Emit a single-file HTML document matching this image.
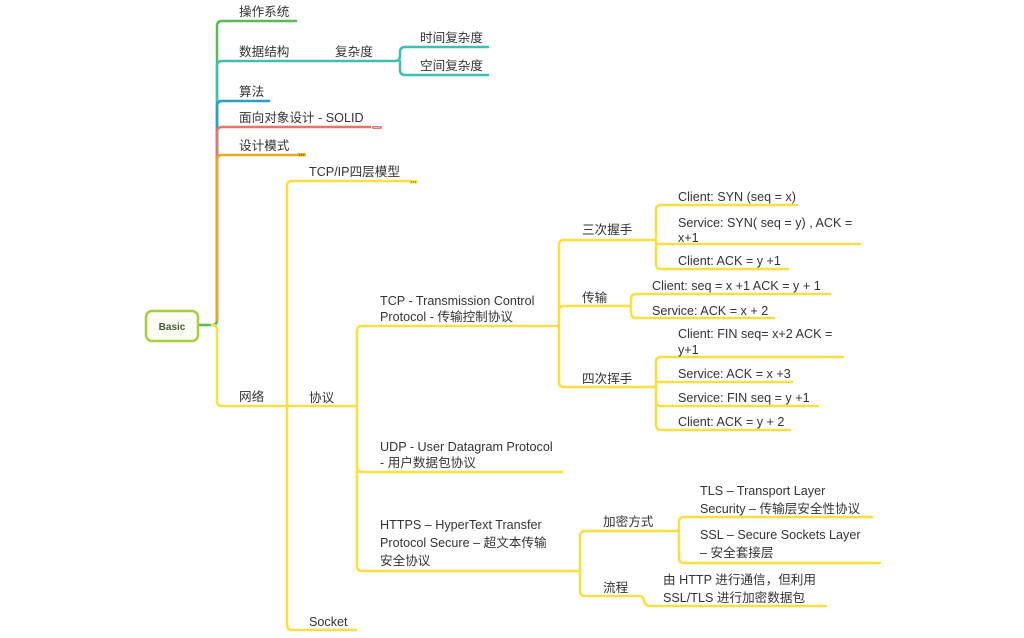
<!DOCTYPE html>
<html><head><meta charset="utf-8"><style>
html,body{margin:0;padding:0;background:#fff;}
svg text{font-family:"Liberation Sans","Noto Sans CJK SC",sans-serif;font-size:12.6px;fill:#333;}
</style></head><body>
<svg width="1024" height="633" viewBox="0 0 1024 633" xmlns="http://www.w3.org/2000/svg">
<g fill="none" stroke-width="2.5" stroke-linecap="round">
<path d="M198 325 H212 Q217 325 217 320 V26 Q217 21 222 21 H296" stroke="#5cb85c"/>
<path d="M217 320 V66 Q217 61 222 61 H395" stroke="#3fbfb0"/>
<path d="M217 320 V106 Q217 101 222 101 H269" stroke="#2a9fc6"/>
<path d="M217 320 V132 Q217 127 222 127 H370" stroke="#e8736b"/>
<path d="M217 320 V160 Q217 155 222 155 H296" stroke="#e8a820"/>
<path d="M212 325 Q217 325 217 330 V401 Q217 406 222 406 H287" stroke="#f7e040"/>
<path d="M395 61 Q400 61 400 56 V52 Q400 47 405 47 H488 M400 61 V70 Q400 75 405 75 H488" stroke="#3fbfb0"/>
<path d="M287 406 V186 Q287 181 292 181 H410 M287 406 H356 M287 406 V625 Q287 630 292 630 H356" stroke="#f7e040"/>
<path d="M356 406 Q357 406 357 401 V331 Q357 326 362 326 H558 M357 406 V467 Q357 472 362 472 H562 M357 406 V566 Q357 571 362 571 H580" stroke="#f7e040"/>
<path d="M558 326 Q559 326 559 321 V245 Q559 240 564 240 H655 M559 326 V311 Q559 306 564 306 H630 M559 326 V382 Q559 387 564 387 H655" stroke="#f7e040"/>
<path d="M655 240 Q656 240 656 235 V210 Q656 205 661 205 H797 M656 240 V244 H860 M656 240 V264 Q656 269 661 269 H788" stroke="#f7e040"/>
<path d="M630 306 Q631 306 631 301 V299 Q631 294 636 294 H830 M631 306 V313 Q631 318 636 318 H774" stroke="#f7e040"/>
<path d="M655 387 Q656 387 656 382 V362 Q656 357 661 357 H843 M656 387 V382 H792 M656 387 V401 Q656 406 661 406 H818 M656 387 V425 Q656 430 661 430 H790" stroke="#f7e040"/>
<path d="M580 571 Q580 571 580 566 V536 Q580 531 585 531 H678 M580 571 V591 Q580 596 585 596 H640 Q643 596 644 601 Q645 606 650 606 H826" stroke="#f7e040"/>
<path d="M678 531 Q679 531 679 526 V522 Q679 517 684 517 H872 M679 531 V558 Q679 563 684 563 H880" stroke="#f7e040"/>
</g>
<rect x="372" y="126" width="10" height="3" rx="1.5" fill="#e8736b"/>
<rect x="297" y="153" width="9" height="3.5" rx="1.5" fill="#e8a820"/>
<rect x="409" y="180" width="9" height="3.5" rx="1.5" fill="#f7e040"/>
<g fill="#fff"><circle cx="375" cy="127.5" r=".6"/><circle cx="377" cy="127.5" r=".6"/><circle cx="379" cy="127.5" r=".6"/></g>
<g fill="#555"><circle cx="299.5" cy="155" r=".6"/><circle cx="301.5" cy="155" r=".6"/><circle cx="303.5" cy="155" r=".6"/>
<circle cx="411.5" cy="182" r=".6"/><circle cx="413.5" cy="182" r=".6"/><circle cx="415.5" cy="182" r=".6"/></g>
<rect x="146" y="311" width="52" height="30" rx="6" fill="#fbfdf4" stroke="#a6cf3c" stroke-width="2.5"/>
<text x="172" y="330" text-anchor="middle" style="font-size:10px;font-weight:bold;fill:#4a5a3a">Basic</text>
<text x="239" y="16">操作系统</text>
<text x="239" y="56">数据结构</text>
<text x="335" y="56">复杂度</text>
<text x="420" y="42">时间复杂度</text>
<text x="420" y="70">空间复杂度</text>
<text x="239" y="96">算法</text>
<text x="239" y="122">面向对象设计 - SOLID</text>
<text x="239" y="150">设计模式</text>
<text x="309" y="176">TCP/IP四层模型</text>
<text x="239" y="401">网络</text>
<text x="309" y="402">协议</text>
<text x="309" y="626">Socket</text>
<text x="380" y="305">TCP - Transmission Control</text>
<text x="380" y="321">Protocol - 传输控制协议</text>
<text x="380" y="451">UDP - User Datagram Protocol</text>
<text x="380" y="467">- 用户数据包协议</text>
<text x="380" y="529">HTTPS – HyperText Transfer</text>
<text x="380" y="547">Protocol Secure – 超文本传输</text>
<text x="380" y="565">安全协议</text>
<text x="582" y="234">三次握手</text>
<text x="582" y="302">传输</text>
<text x="582" y="383">四次挥手</text>
<text x="678" y="201">Client: SYN (seq = x)</text>
<text x="678" y="227">Service: SYN( seq = y) , ACK =</text>
<text x="678" y="242">x+1</text>
<text x="678" y="265">Client: ACK = y +1</text>
<text x="652" y="290">Client: seq = x +1 ACK = y + 1</text>
<text x="652" y="315">Service: ACK = x + 2</text>
<text x="678" y="338">Client: FIN seq= x+2 ACK =</text>
<text x="678" y="354">y+1</text>
<text x="678" y="378">Service: ACK = x +3</text>
<text x="678" y="402">Service: FIN seq = y +1</text>
<text x="678" y="426">Client: ACK = y + 2</text>
<text x="603" y="526">加密方式</text>
<text x="603" y="592">流程</text>
<text x="700" y="495">TLS – Transport Layer</text>
<text x="700" y="513">Security – 传输层安全性协议</text>
<text x="700" y="539">SSL – Secure Sockets Layer</text>
<text x="700" y="557">– 安全套接层</text>
<text x="663" y="584">由 HTTP 进行通信，但利用</text>
<text x="663" y="602">SSL/TLS 进行加密数据包</text>
</svg>
</body></html>
